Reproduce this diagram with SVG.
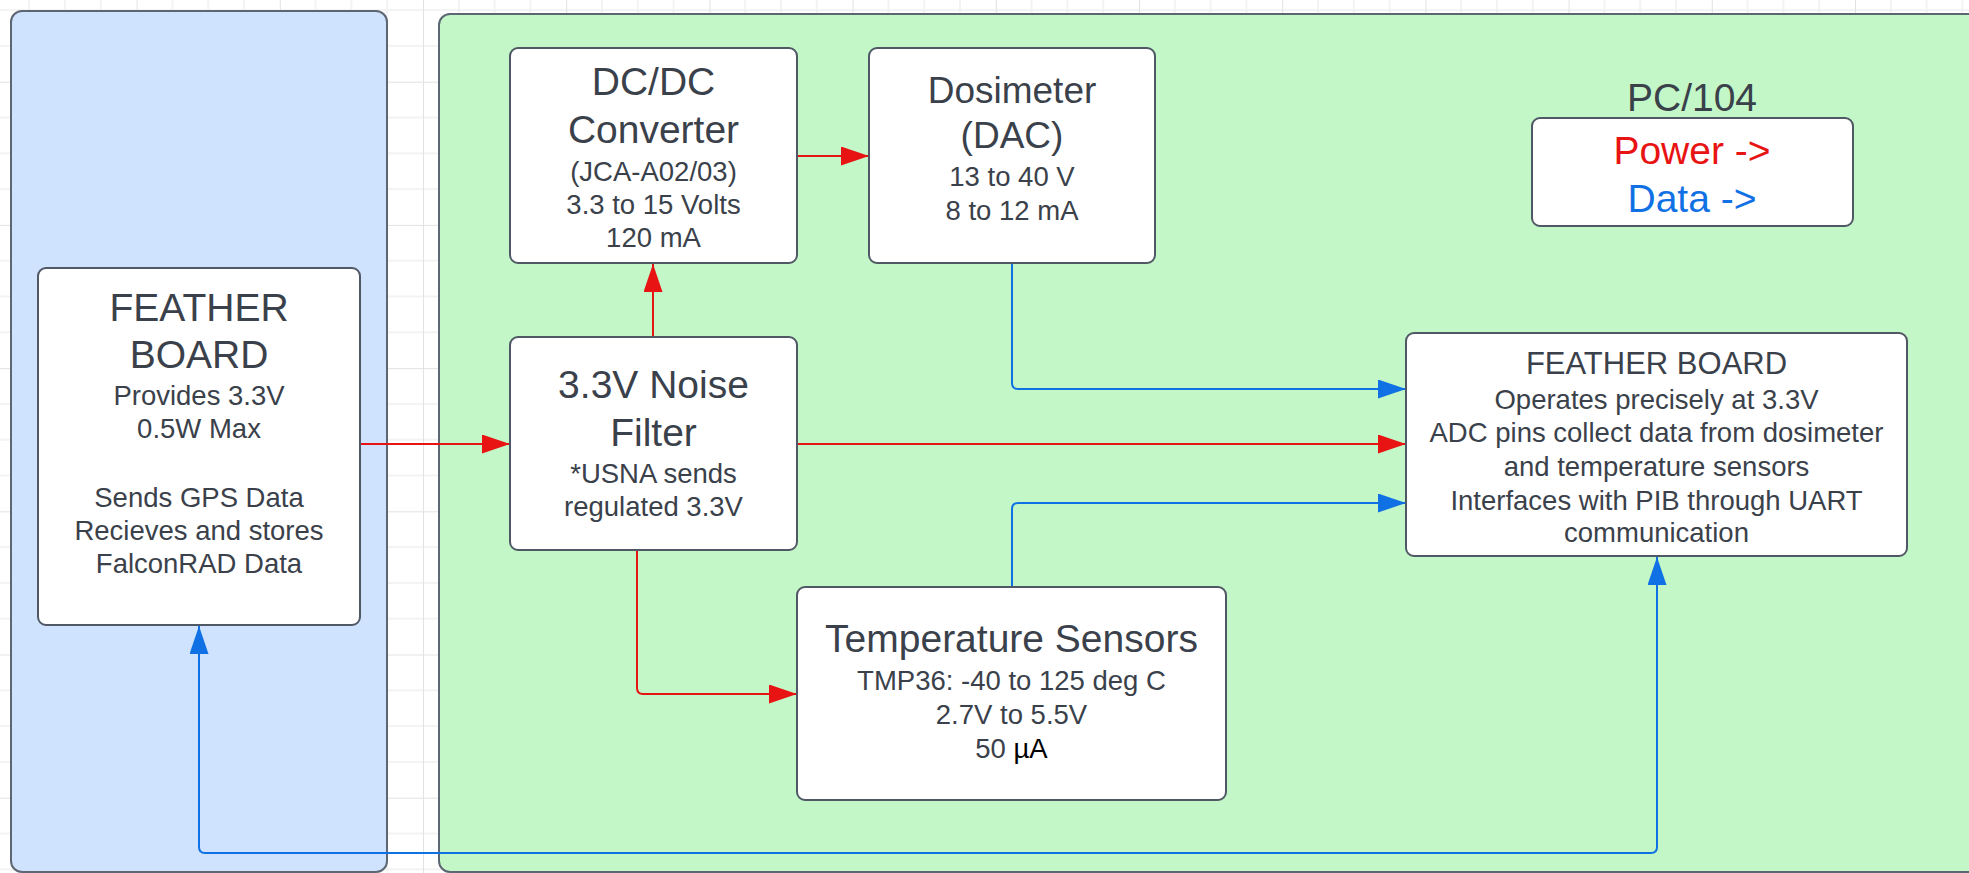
<svg xmlns="http://www.w3.org/2000/svg" width="1969" height="873" viewBox="0 0 1969 873">
<defs>
<pattern id="grid" patternUnits="userSpaceOnUse" x="-6.6" y="-61.5" width="143.2" height="143.2">
<path d="M35.8,0V143.2M71.6,0V143.2M107.4,0V143.2M0,35.8H143.2M0,71.6H143.2M0,107.4H143.2" stroke="#f0f0f0" stroke-width="1.5" fill="none"/>
<path d="M0,0V143.2M0,0H143.2" stroke="#e2e2e2" stroke-width="2" fill="none"/>
</pattern>
<marker id="ar" markerUnits="userSpaceOnUse" markerWidth="30" markerHeight="20" refX="28" refY="9.5" orient="auto-start-reverse">
<path d="M0,0L28,9.5L0,19z" fill="#e81313"/>
</marker>
<marker id="ab" markerUnits="userSpaceOnUse" markerWidth="30" markerHeight="20" refX="28" refY="9.5" orient="auto-start-reverse">
<path d="M0,0L28,9.5L0,19z" fill="#1071e5"/>
</marker>
</defs>
<style>
.node{fill:#ffffff;stroke:#4f5864;stroke-width:2}
.cont{stroke:#5d6673;stroke-width:2}
text{font-family:"Liberation Sans",Arial,sans-serif;fill:#3a414a;text-anchor:middle}
.h{font-size:39px}
.hd{font-size:37px}
.h2{font-size:31px}
.b{font-size:27.5px}
.red{stroke:#e81313;stroke-width:2;fill:none}
.blue{stroke:#1071e5;stroke-width:2;fill:none}
</style>
<rect x="0" y="0" width="1969" height="873" fill="#ffffff"/>
<rect x="0" y="0" width="1969" height="873" fill="url(#grid)"/>
<g id="container-left">
<rect class="cont" x="11" y="11" width="376" height="861" rx="11" fill="#cfe2fe"/>
</g>
<g id="container-pc104">
<rect class="cont" x="439" y="14" width="1545" height="858" rx="11" fill="#c3f7c8"/>
</g>
<g id="connectors">
<path class="red" d="M360,444H510" marker-end="url(#ar)"/>
<path class="red" d="M653,337V264" marker-end="url(#ar)"/>
<path class="red" d="M797,156H869" marker-end="url(#ar)"/>
<path class="red" d="M797,444H1406" marker-end="url(#ar)"/>
<path class="red" d="M637,550V688Q637,694 643,694H797" marker-end="url(#ar)"/>
<path class="blue" d="M1012,264V383Q1012,389 1018,389H1406" marker-end="url(#ab)"/>
<path class="blue" d="M1012,587V509Q1012,503 1018,503H1406" marker-end="url(#ab)"/>
<path class="blue" d="M199,626V847Q199,853 205,853H1651Q1657,853 1657,847V557" marker-start="url(#ab)" marker-end="url(#ab)"/>
</g>
<g id="feather-left">
<rect class="node" x="38" y="268" width="322" height="357" rx="8"/>
<text class="h" x="199" y="321">FEATHER</text>
<text class="h" x="199" y="368">BOARD</text>
<text class="b" x="199" y="405">Provides 3.3V</text>
<text class="b" x="199" y="438">0.5W Max</text>
<text class="b" x="199" y="507">Sends GPS Data</text>
<text class="b" x="199" y="540">Recieves and stores</text>
<text class="b" x="199" y="573">FalconRAD Data</text>
</g>
<g id="dcdc">
<rect class="node" x="510" y="48" width="287" height="215" rx="8"/>
<text class="h" x="653.5" y="95">DC/DC</text>
<text class="h" x="653.5" y="143">Converter</text>
<text class="b" x="653.5" y="181">(JCA-A02/03)</text>
<text class="b" x="653.5" y="214">3.3 to 15 Volts</text>
<text class="b" x="653.5" y="247">120 mA</text>
</g>
<g id="noise-filter">
<rect class="node" x="510" y="337" width="287" height="213" rx="8"/>
<text class="h" x="653.5" y="398">3.3V Noise</text>
<text class="h" x="653.5" y="446">Filter</text>
<text class="b" x="653.5" y="483">*USNA sends</text>
<text class="b" x="653.5" y="516">regulated 3.3V</text>
</g>
<g id="dosimeter">
<rect class="node" x="869" y="48" width="286" height="215" rx="8"/>
<text class="hd" x="1012" y="103">Dosimeter</text>
<text class="hd" x="1012" y="148">(DAC)</text>
<text class="b" x="1012" y="186">13 to 40 V</text>
<text class="b" x="1012" y="220">8 to 12 mA</text>
</g>
<g id="legend">
<text class="h" x="1692" y="111">PC/104</text>
<rect class="node" x="1532" y="118" width="321" height="108" rx="8"/>
<text class="h" x="1692" y="164" style="fill:#e81313">Power -&gt;</text>
<text class="h" x="1692" y="212" style="fill:#1071e5">Data -&gt;</text>
</g>
<g id="feather-right">
<rect class="node" x="1406" y="333" width="501" height="223" rx="8"/>
<text class="h2" x="1656.5" y="374">FEATHER BOARD</text>
<text class="b" x="1656.5" y="409">Operates precisely at 3.3V</text>
<text class="b" x="1656.5" y="442">ADC pins collect data from dosimeter</text>
<text class="b" x="1656.5" y="476">and temperature sensors</text>
<text class="b" x="1656.5" y="510">Interfaces with PIB through UART</text>
<text class="b" x="1656.5" y="542">communication</text>
</g>
<g id="temp-sensors">
<rect class="node" x="797" y="587" width="429" height="213" rx="8"/>
<text class="h" x="1011.5" y="652">Temperature Sensors</text>
<text class="b" x="1011.5" y="690">TMP36: -40 to 125 deg C</text>
<text class="b" x="1011.5" y="724">2.7V to 5.5V</text>
<text class="b" x="1011.5" y="758">50 <tspan style="fill:#000000">µA</tspan></text>
</g>
</svg>
